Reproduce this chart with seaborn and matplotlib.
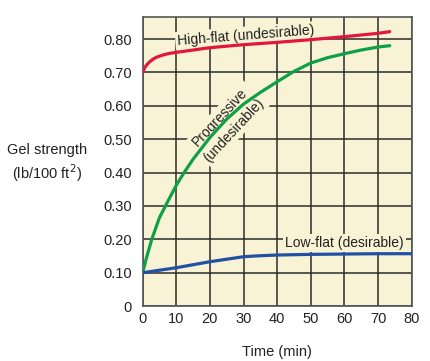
import matplotlib
matplotlib.use("Agg")
import matplotlib.pyplot as plt
import seaborn as sns
import pandas as pd

# values
high_t = [0, 0.5, 1, 2, 3, 4, 6, 8, 10, 20, 30, 40, 50, 60, 70, 73.5]
high_v = [0.70, 0.712, 0.72, 0.731, 0.739, 0.745, 0.752, 0.757, 0.76, 0.774, 0.783, 0.79,
          0.798, 0.807, 0.817, 0.822]

prog_t = [0, 1, 2.7, 5, 7.7, 10, 12.2, 15, 20, 25, 30, 35, 40, 45, 50, 55, 60, 65, 70, 73.5]
prog_v = [0.10, 0.14, 0.20, 0.265, 0.318, 0.362, 0.398, 0.44, 0.505, 0.56, 0.605, 0.64, 0.672,
          0.703, 0.728, 0.744, 0.756, 0.767, 0.776, 0.78]

low_t = [0, 10, 20, 30, 35, 40, 50, 60, 70, 80]
low_v = [0.10, 0.115, 0.133, 0.148, 0.151, 0.153, 0.155, 0.156, 0.157, 0.157]

x_ticks = [0, 10, 20, 30, 40, 50, 60, 70, 80]
y_ticks = [0, 0.1, 0.2, 0.3, 0.4, 0.5, 0.6, 0.7, 0.8]
y_tick_labels = ["0", "0.10", "0.20", "0.30", "0.40", "0.50", "0.60", "0.70", "0.80"]

cream = "#f8f3d4"
ink = "#2b2b2b"

sns.set_theme(style="white")
plt.rcParams["font.family"] = ["Liberation Sans", "DejaVu Sans"]

fig = plt.figure(figsize=(4.31, 3.61), dpi=100)
ax = fig.add_axes([0.331, 0.152, 0.624, 0.801])
ax.set_facecolor(cream)

series = [
    (high_t, high_v, "#e2173d"),
    (prog_t, prog_v, "#0f9f48"),
    (low_t, low_v, "#2150a5"),
]
for t, v, c in series:
    df = pd.DataFrame({"t": t, "v": v})
    sns.lineplot(data=df, x="t", y="v", color=c, linewidth=2.3, ax=ax, zorder=3)

ax.set_xlim(0, 80)
ax.set_ylim(0, 0.866)
ax.set_xticks(x_ticks)
ax.set_yticks(y_ticks)
ax.set_yticklabels(y_tick_labels)
ax.grid(True, color=ink, linewidth=1.1)
ax.set_axisbelow(True)
for s in ax.spines.values():
    s.set_color("#555555")
    s.set_linewidth(1.2)
ax.tick_params(axis="both", labelsize=10.5, colors="#222222", length=0, pad=4)
ax.tick_params(axis="y", length=4, width=1, color=ink, direction="out")

ax.set_xlabel("Time (min)", fontsize=10.5, color="#222222", labelpad=14)
ax.set_ylabel("")
fig.text(0.109, 0.548, "Gel strength\n(lb/100 ft$^2$)", ha="center", va="center",
         fontsize=10.5, color="#222222", linespacing=1.3)

box = dict(boxstyle="square,pad=0.15", facecolor=cream, edgecolor="none")
ax.text(30.7, 0.81, "High-flat (undesirable)", ha="center", va="center", rotation=4.5,
        fontsize=10, color="#222222", bbox=box, zorder=2, rotation_mode="anchor")
ax.text(60, 0.188, "Low-flat (desirable)", ha="center", va="center",
        fontsize=10, color="#222222", bbox=box, zorder=2)
ax.text(25.1, 0.546, "Progressive\n(undesirable)", ha="center", va="center", rotation=47,
        fontsize=10, color="#222222", bbox=box, zorder=2, rotation_mode="anchor",
        linespacing=1.5)

fig.savefig("out.png", dpi=100, facecolor="white")
